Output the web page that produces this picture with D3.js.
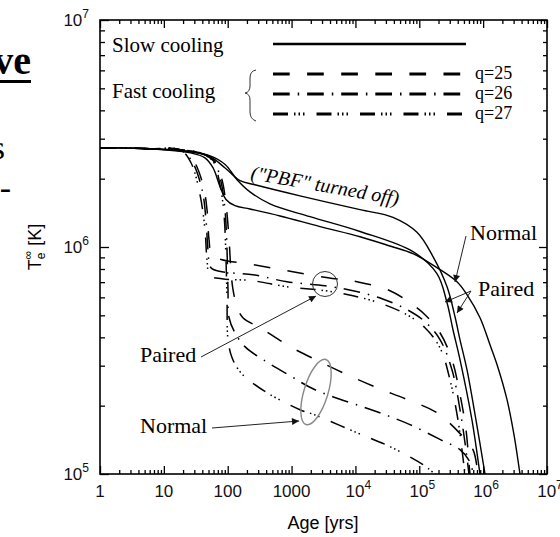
<!DOCTYPE html>
<html>
<head>
<meta charset="utf-8">
<script src="https://cdn.jsdelivr.net/npm/d3@7"></script>
<style>
body { margin: 0; background: #fff; }
svg { display: block; }
</style>
</head>
<body>
<script>
// curves: [age in yrs, Te in K]
const slowNormal = [[1,2.74e6],[6,2.71e6],[26,2.60e6],[44,2.47e6],[59,2.23e6],[76,1.84e6],[94,1.62e6],[130,1.52e6],[223,1.47e6],[660,1.37e6],[2790,1.23e6],[11800,1.11e6],[34800,1.01e6],[79600,9.35e5],[189000,8.11e5],[389000,7.03e5],[558000,6.17e5],[893000,4.88e5],[1.28e6,3.71e5],[1.71e6,2.94e5],[2.36e6,2.13e5],[3.04e6,1.49e5],[3.78e6,1.0e5],[3.9e6,0.95e5]];
const slowPaired = [[1,2.74e6],[6,2.71e6],[26,2.63e6],[53,2.52e6],[91,2.31e6],[140,1.98e6],[223,1.75e6],[459,1.55e6],[1940,1.36e6],[11800,1.17e6],[79600,9.54e5],[189000,7.63e5],[272000,5.68e5],[337000,4.32e5],[434000,3.19e5],[668000,1.73e5],[893000,1.0e5],[920000,0.95e5]];
const slowPairedNoPBF = [[1,2.74e6],[6,2.71e6],[26,2.63e6],[53,2.50e6],[91,2.23e6],[156,1.96e6],[267,1.88e6],[1355,1.68e6],[11800,1.46e6],[38750,1.35e6],[92000,1.16e6],[164000,9.07e5],[272000,6.68e5],[362500,4.93e5],[433600,3.91e5],[558000,2.88e5],[772000,1.73e5],[1.07e6,1.0e5],[1.1e6,0.95e5]];

const fastPaired25 = [[1,2.74e6],[6,2.71e6],[18,2.68e6],[28.6,2.42e6],[41,1.88e6],[47.4,1.46e6],[50.9,1.08e6],[56.7,9.16e5],[81.3,8.79e5],[249,8.36e5],[848,7.86e5],[3720,7.32e5],[10570,7.03e5],[34800,6.42e5],[71500,5.68e5],[122800,5.03e5],[210900,4.19e5],[325000,3.19e5],[434000,2.24e5],[538000,1.57e5],[622000,1.0e5],[640000,0.95e5]];
const fastPaired26 = [[1,2.74e6],[6,2.71e6],[18,2.68e6],[27.6,2.38e6],[39.6,1.79e6],[45.7,1.32e6],[49.1,9.73e5],[54.7,8.11e5],[81.3,7.78e5],[249,7.55e5],[848,7.03e5],[3340,6.75e5],[9160,6.42e5],[26100,5.92e5],[64200,5.30e5],[122800,4.69e5],[210900,3.91e5],[325000,2.88e5],[434000,1.92e5],[538000,1.28e5],[600000,1.0e5],[615000,0.95e5]];
const fastPaired27 = [[1,2.74e6],[6,2.71e6],[18,2.68e6],[26.6,2.35e6],[36.8,1.70e6],[44.1,1.19e6],[47.4,8.79e5],[52.8,7.47e5],[81.3,7.25e5],[249,7.10e5],[848,6.68e5],[3340,6.42e5],[9160,6.10e5],[26100,5.62e5],[64200,5.03e5],[122800,4.41e5],[210900,3.60e5],[302700,2.60e5],[403400,1.73e5],[519600,1.0e5],[535000,0.95e5]];

const fastNormal25 = [[1,2.74e6],[6,2.71e6],[18,2.68e6],[36.8,2.60e6],[63.2,2.38e6],[81.3,1.98e6],[94,1.54e6],[105,1.08e6],[112,7.94e5],[121,6.49e5],[140,5.46e5],[173,4.88e5],[320,4.41e5],[512,4.06e5],[945,3.64e5],[2790,3.12e5],[7380,2.74e5],[21760,2.40e5],[64150,2.13e5],[189300,1.86e5],[483400,1.46e5],[693100,1.28e5],[830000,1.0e5],[850000,0.95e5]];
const fastNormal26 = [[1,2.74e6],[6,2.71e6],[18,2.68e6],[36.8,2.60e6],[61,2.38e6],[78.5,1.94e6],[90.6,1.46e6],[97.5,9.73e5],[101,6.49e5],[105,4.88e5],[130,4.19e5],[186,3.64e5],[357,3.19e5],[945,2.71e5],[2330,2.35e5],[21760,1.88e5],[71470,1.65e5],[210900,1.42e5],[433600,1.28e5],[622100,1.13e5],[693100,1.0e5],[710000,0.95e5]];
const fastNormal27 = [[1,2.74e6],[6,2.71e6],[18,2.68e6],[36.8,2.60e6],[58.8,2.38e6],[75.7,1.88e6],[87.5,1.39e6],[94,8.79e5],[97.5,5.86e5],[101,3.91e5],[117,3.25e5],[156,2.82e5],[240,2.53e5],[459,2.24e5],[1355,1.92e5],[2330,1.82e5],[10570,1.52e5],[34790,1.32e5],[114300,1.10e5],[176200,1.0e5],[250000,0.93e5]];

const xTickLabels = ["1", "10", "100", "1000", "10^4", "10^5", "10^6", "10^7"];
const yTickLabels = ["10^5", "10^6", "10^7"];
const qLabels = ["q=25", "q=26", "q=27"];

// --- setup
const W = 560, H = 537;
const serif = "'Liberation Serif', 'Times New Roman', serif";
const sans = "'Liberation Sans', Arial, sans-serif";

const svg = d3.select("body").append("svg")
    .attr("width", W)
    .attr("height", H);

const x = d3.scaleLog().domain([1, 1e7]).range([100, 547]);
const y = d3.scaleLog().domain([1e5, 1e7]).range([474, 20]);

const dash = {
    q25: "16.7,17.4",
    q26: "16.7,8,1.5,7.9",
    q27: "15,6,1.5,3,1.5,3,1.5,12"
};

// slide fragments on the left
svg.append("text").attr("x", 31).attr("y", 74).attr("text-anchor", "end")
    .style("font-family", serif).style("font-weight", "bold").style("font-size", "40px")
    .text("ve");
svg.append("rect").attr("x", 0).attr("y", 80).attr("width", 31).attr("height", 3).attr("fill", "#000");
svg.append("text").attr("x", 5).attr("y", 159).attr("text-anchor", "end")
    .style("font-family", serif).style("font-size", "34px").text("s");
svg.append("text").attr("x", 11).attr("y", 199).attr("text-anchor", "end")
    .style("font-family", serif).style("font-size", "34px").text("-");

// defs
const defs = svg.append("defs");
defs.append("clipPath").attr("id", "plot")
    .append("rect").attr("x", 100).attr("y", 20).attr("width", 447).attr("height", 454);
defs.append("marker").attr("id", "arr")
    .attr("viewBox", "0 0 10 10").attr("refX", 10).attr("refY", 5)
    .attr("markerWidth", 9).attr("markerHeight", 7).attr("markerUnits", "userSpaceOnUse")
    .attr("orient", "auto")
    .append("path").attr("d", "M0,0L10,5L0,10Z").attr("fill", "#111");

// --- curves
const line = d3.line()
    .x(d => x(d[0]))
    .y(d => y(d[1]))
    .curve(d3.curveCatmullRom.alpha(0.5));

const curves = svg.append("g").attr("clip-path", "url(#plot)")
    .attr("fill", "none").attr("stroke", "#000");

[slowNormal, slowPaired, slowPairedNoPBF].forEach(c => {
    curves.append("path").attr("d", line(c)).attr("stroke-width", 1.4);
});
[[fastPaired25, dash.q25], [fastPaired26, dash.q26], [fastPaired27, dash.q27],
 [fastNormal25, dash.q25], [fastNormal26, dash.q26], [fastNormal27, dash.q27]].forEach(([c, da]) => {
    curves.append("path").attr("d", line(c)).attr("stroke-width", 1.5)
        .attr("stroke-dasharray", da);
});

// --- axes (ticks point inward on all four sides)
const majors = d3.range(0, 8).map(e => Math.pow(10, e));
const minors = [];
for (let e = 0; e < 7; e++) for (let k = 2; k < 10; k++) minors.push(k * Math.pow(10, e));
const yMajors = [1e5, 1e6, 1e7];
const yMinors = [];
for (let e = 5; e < 7; e++) for (let k = 2; k < 10; k++) yMinors.push(k * Math.pow(10, e));

function ticks(axis, vals, len, tr) {
    const g = svg.append("g").attr("transform", tr)
        .call(axis.tickValues(vals).tickSizeInner(-len).tickSizeOuter(0).tickFormat(""));
    g.select(".domain").remove();
    g.selectAll("line").attr("stroke", "#000").attr("stroke-width", 1.3);
}
ticks(d3.axisBottom(x), majors, 8, "translate(0,474)");
ticks(d3.axisBottom(x), minors, 4, "translate(0,474)");
ticks(d3.axisTop(x), majors, 8, "translate(0,20)");
ticks(d3.axisTop(x), minors, 4, "translate(0,20)");
ticks(d3.axisLeft(y), yMajors, 9, "translate(100,0)");
ticks(d3.axisLeft(y), yMinors, 5, "translate(100,0)");
ticks(d3.axisRight(y), yMajors, 8, "translate(547,0)");
ticks(d3.axisRight(y), yMinors, 4, "translate(547,0)");

svg.append("rect").attr("x", 100).attr("y", 20).attr("width", 447).attr("height", 454)
    .attr("fill", "none").attr("stroke", "#000").attr("stroke-width", 1.6);

function powLabel(sel, s) {
    const p = s.split("^");
    sel.append("tspan").text(p[0]);
    if (p[1]) sel.append("tspan").attr("dy", -8).style("font-size", "12px").text(p[1]);
}

xTickLabels.forEach((s, i) => {
    const t = svg.append("text").attr("x", x(majors[i]) + (s.includes("^") ? 3 : 0)).attr("y", 497)
        .attr("text-anchor", "middle")
        .style("font-family", sans).style("font-size", "17px").attr("fill", "#111");
    powLabel(t, s);
});
yTickLabels.forEach((s, i) => {
    const t = svg.append("text").attr("x", 89).attr("y", y(yMajors[i]) + 6)
        .attr("text-anchor", "end")
        .style("font-family", sans).style("font-size", "17px").attr("fill", "#111");
    powLabel(t, s);
});

svg.append("text").attr("x", 323).attr("y", 529).attr("text-anchor", "middle")
    .style("font-family", sans).style("font-size", "18px").text("Age [yrs]");

const yl = svg.append("text").attr("transform", "translate(41,247) rotate(-90)")
    .attr("text-anchor", "middle")
    .style("font-family", sans).style("font-size", "18px");
yl.append("tspan").text("T");
yl.append("tspan").attr("dy", 4).style("font-size", "12px").text("e");
yl.append("tspan").attr("dx", -7).attr("dy", -13).style("font-size", "12px").text("\u221e");
yl.append("tspan").attr("dy", 9).text(" [K]");

// --- legend
svg.append("text").attr("x", 112).attr("y", 52)
    .style("font-family", serif).style("font-size", "21px").text("Slow cooling");
svg.append("text").attr("x", 112).attr("y", 98)
    .style("font-family", serif).style("font-size", "21px").text("Fast cooling");
svg.append("line").attr("x1", 273).attr("x2", 466).attr("y1", 44).attr("y2", 44)
    .attr("stroke", "#000").attr("stroke-width", 2.6);
svg.append("path")
    .attr("d", "M256,70 Q250,71 250,78 L250,86 Q250,92 245,93 Q250,94 250,100 L250,112 Q250,119 256,121")
    .attr("fill", "none").attr("stroke", "#333").attr("stroke-width", 1);

const qDash = [dash.q25, dash.q26, dash.q27];
const qLineY = [74, 94, 114];
qLabels.forEach((s, i) => {
    const ly = qLineY[i];
    svg.append("line").attr("x1", 273).attr("x2", 462).attr("y1", ly).attr("y2", ly)
        .attr("stroke", "#000").attr("stroke-width", 2.8).attr("stroke-dasharray", qDash[i]);
    svg.append("text").attr("x", 475).attr("y", ly + 5)
        .style("font-family", serif).style("font-size", "18px").text(s);
});

// --- annotations
svg.append("text").attr("transform", "translate(250,179) rotate(10)")
    .style("font-family", serif).style("font-style", "italic").style("font-size", "20px")
    .text("(\"PBF\" turned off)");

svg.append("circle").attr("cx", 325).attr("cy", 284).attr("r", 12.5)
    .attr("fill", "none").attr("stroke", "#333").attr("stroke-width", 1);
svg.append("ellipse").attr("transform", "translate(316,392) rotate(17)")
    .attr("rx", 12).attr("ry", 34)
    .attr("fill", "none").attr("stroke", "#888").attr("stroke-width", 1.4);

function note(txt, tx, ty, arrows) {
    svg.append("text").attr("x", tx).attr("y", ty)
        .style("font-family", serif).style("font-size", "22px").text(txt);
    arrows.forEach(a => {
        svg.append("line").attr("x1", a[0]).attr("y1", a[1]).attr("x2", a[2]).attr("y2", a[3])
            .attr("stroke", "#222").attr("stroke-width", 1).attr("marker-end", "url(#arr)");
    });
}
note("Paired", 140, 362, [[201, 357, 316, 296]]);
note("Normal", 140, 433, [[212, 428, 299, 421]]);
note("Normal", 470, 240, [[466, 236, 455, 282]]);
note("Paired", 478, 296, [[471, 291, 445, 302], [471, 291, 457, 313]]);
</script>
</body>
</html>
